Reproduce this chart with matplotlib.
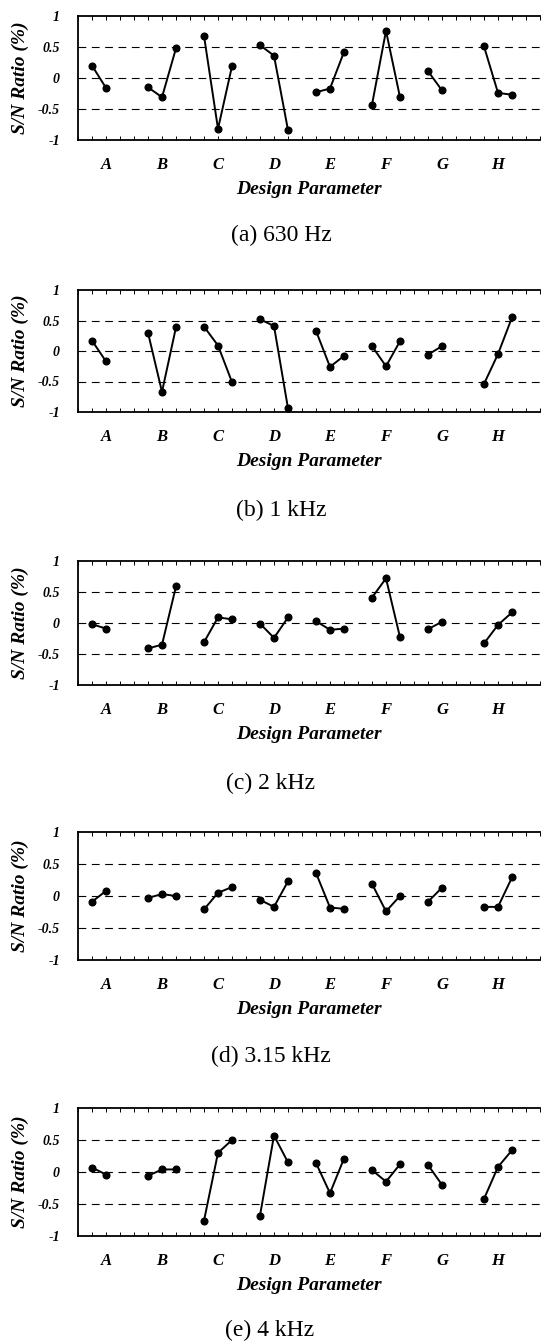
import matplotlib
matplotlib.use("Agg")
import matplotlib.pyplot as plt
from matplotlib.ticker import MultipleLocator, FixedLocator

# design parameters and the number of levels of each
params = ["A", "B", "C", "D", "E", "F", "G", "H"]
levels = [2, 3, 3, 3, 3, 3, 2, 3]

titles = ["(a) 630 Hz", "(b) 1 kHz", "(c) 2 kHz", "(d) 3.15 kHz", "(e) 4 kHz"]

# S/N ratio per level, one list per parameter
sn_630 = [[0.20, -0.16], [-0.15, -0.31, 0.48], [0.68, -0.82, 0.19], [0.53, 0.36, -0.84],
          [-0.23, -0.17, 0.42], [-0.43, 0.76, -0.31], [0.11, -0.20], [0.51, -0.24, -0.27]]
sn_1k = [[0.17, -0.17], [0.30, -0.67, 0.39], [0.40, 0.09, -0.51], [0.52, 0.41, -0.94],
         [0.33, -0.26, -0.08], [0.08, -0.25, 0.16], [-0.06, 0.08], [-0.54, -0.05, 0.55]]
sn_2k = [[-0.02, -0.09], [-0.41, -0.35, 0.59], [-0.31, 0.09, 0.06], [-0.01, -0.24, 0.09],
         [0.03, -0.11, -0.09], [0.41, 0.72, -0.23], [-0.10, 0.02], [-0.33, -0.03, 0.17]]
sn_3k15 = [[-0.09, 0.08], [-0.03, 0.03, 0.0], [-0.21, 0.05, 0.14], [-0.06, -0.17, 0.23],
           [0.36, -0.18, -0.20], [0.19, -0.24, 0.0], [-0.09, 0.13], [-0.17, -0.17, 0.29]]
sn_4k = [[0.07, -0.04], [-0.06, 0.04, 0.04], [-0.76, 0.30, 0.50], [-0.68, 0.57, 0.15],
         [0.14, -0.33, 0.21], [0.03, -0.15, 0.12], [0.11, -0.20], [-0.42, 0.08, 0.34]]

all_data = [sn_630, sn_1k, sn_2k, sn_3k15, sn_4k]

# layout in pixels: panel (top, bottom), caption (x, y)
W, H = 541, 1343
boxes = [(16, 140), (290, 412), (561, 685), (832, 960), (1108, 1236)]
captions = [(281, 235), (281, 510), (271, 783), (271, 1056), (270, 1330)]
left_px = 78
step_px = 14
nslots = 33

plt.rcParams["font.family"] = ["Liberation Serif", "DejaVu Serif"]

fig = plt.figure(figsize=(W / 100, H / 100), dpi=100)

for data, title, (top, bot), (cx, cy) in zip(all_data, titles, boxes, captions):
    ax = fig.add_axes([left_px / W, 1 - bot / H, nslots * step_px / W, (bot - top) / H])
    label_pos = []
    start = 1
    for vals, n in zip(data, levels):
        xs = list(range(start, start + n))
        ax.plot(xs, vals, "-o", color="black", lw=1.4, markersize=4.8)
        label_pos.append(start + 1)
        start += 4
    ax.set_xlim(0, nslots)
    ax.set_ylim(-1, 1)
    for y in [0.5, 0, -0.5]:
        ax.axhline(y, color="black", lw=0.8, dashes=(7, 5), zorder=0)

    ax.xaxis.set_major_locator(FixedLocator(label_pos))
    ax.set_xticklabels(params, fontsize=12, fontstyle="italic", fontweight="bold")
    ax.xaxis.set_minor_locator(MultipleLocator(1))
    ax.tick_params(axis="x", which="both", direction="in", length=3, width=0.7,
                   top=True, pad=12)
    ax.set_yticks([-1, -0.5, 0, 0.5, 1])
    ax.set_yticklabels(["-1", "-0.5", "0", "0.5", "1"], fontsize=10,
                       fontstyle="italic", fontweight="bold")
    ax.tick_params(axis="y", length=0, pad=13)
    ax.spines["right"].set_visible(False)
    for s in ["left", "bottom", "top"]:
        ax.spines[s].set_linewidth(1.3)

    ax.set_xlabel("Design Parameter", fontsize=14, fontstyle="italic",
                  fontweight="bold", labelpad=6)
    ax.set_ylabel("S/N Ratio (%)", fontsize=14, fontstyle="italic",
                  fontweight="bold")
    ax.yaxis.set_label_coords(-0.106, 0.5)
    fig.text(cx / W, 1 - cy / H, title, ha="center", va="center", fontsize=17)

fig.savefig("out.png", dpi=100)
